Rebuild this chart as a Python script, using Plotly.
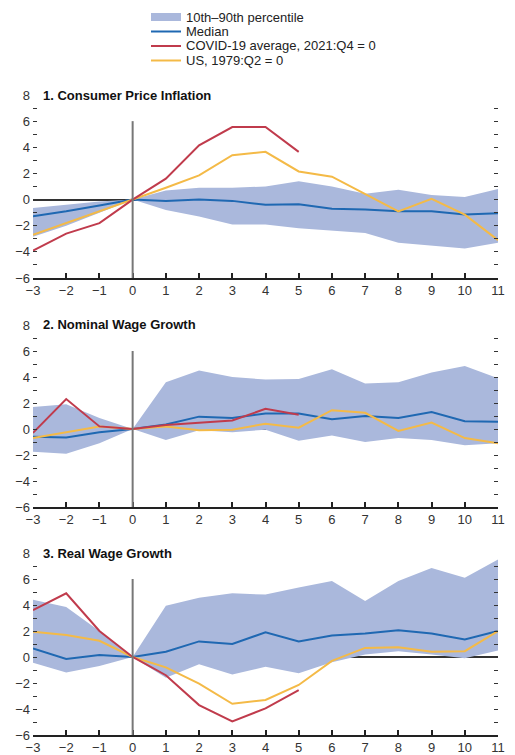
import plotly.graph_objects as go

quarters = list(range(-3, 12))
covid_q = list(range(-3, 6))
x_ticktext = ["\u22123", "\u22122", "\u22121", "0", "1", "2", "3", "4", "5", "6", "7", "8", "9", "10", "11"]
y_tickvals = list(range(-6, 9))
y_ticktext = ["\u22126", "", "\u22124", "", "\u22122", "", "0", "", "2", "", "4", "", "6", "", "8"]

titles = ["1. Consumer Price Inflation", "2. Nominal Wage Growth", "3. Real Wage Growth"]

# Panel 1: Consumer price inflation
cpi_p90 = [-0.65, -0.4, -0.15, 0, 0.7, 0.9, 0.9, 1.0, 1.4, 1.0, 0.45, 0.75, 0.35, 0.2, 0.8]
cpi_p10 = [-2.85, -2.0, -1.0, 0, -0.8, -1.3, -1.9, -1.9, -2.2, -2.35, -2.55, -3.3, -3.55, -3.75, -3.3]
cpi_median = [-1.27, -0.9, -0.45, 0, -0.1, 0.0, -0.1, -0.4, -0.35, -0.7, -0.75, -0.9, -0.9, -1.15, -1.05]
cpi_covid = [-3.9, -2.6, -1.8, 0, 1.6, 4.15, 5.55, 5.55, 3.65]
cpi_us = [-2.7, -1.8, -0.95, 0, 0.9, 1.85, 3.4, 3.65, 2.15, 1.75, 0.45, -0.9, 0.05, -1.15, -3.1]

# Panel 2: Nominal wage growth
nom_p90 = [1.7, 1.9, 0.85, 0, 3.6, 4.5, 4.0, 3.8, 3.85, 4.6, 3.5, 3.6, 4.35, 4.85, 3.9]
nom_p10 = [-1.75, -1.9, -1.1, 0, -0.85, -0.1, -0.25, -0.05, -0.9, -0.5, -1.0, -0.7, -0.85, -1.25, -1.1]
nom_median = [-0.6, -0.65, -0.25, 0, 0.35, 0.95, 0.85, 1.2, 1.2, 0.75, 1.0, 0.85, 1.3, 0.6, 0.55]
nom_covid = [-0.3, 2.3, 0.2, 0, 0.3, 0.45, 0.65, 1.55, 1.1]
nom_us = [-0.7, -0.25, 0.2, 0, 0.2, -0.1, -0.05, 0.4, 0.1, 1.45, 1.25, -0.15, 0.5, -0.7, -1.1]

# Panel 3: Real wage growth
real_p90 = [4.4, 3.85, 2.0, 0, 3.95, 4.55, 4.9, 4.8, 5.35, 5.85, 4.3, 5.85, 6.85, 6.1, 7.5]
real_p10 = [-0.45, -1.2, -0.7, 0, -1.6, -0.55, -1.35, -0.75, -1.25, -0.4, 0.2, 0.45, 0.2, -0.1, 0.5]
real_median = [0.65, -0.15, 0.15, 0, 0.4, 1.2, 1.0, 1.9, 1.2, 1.65, 1.8, 2.05, 1.8, 1.35, 2.0]
real_covid = [3.6, 4.9, 2.0, 0, -1.4, -3.7, -4.95, -3.95, -2.55]
real_us = [1.95, 1.7, 1.25, 0, -0.8, -2.05, -3.6, -3.3, -2.15, -0.3, 0.7, 0.75, 0.4, 0.45, 2.0]

panels = [
    (cpi_p90, cpi_p10, cpi_median, cpi_covid, cpi_us),
    (nom_p90, nom_p10, nom_median, nom_covid, nom_us),
    (real_p90, real_p10, real_median, real_covid, real_us),
]

legend_labels = ["10th\u201390th percentile", "Median", "COVID-19 average, 2021:Q4 = 0", "US, 1979:Q2 = 0"]

BAND = "#AAB8DC"
BLUE = "#1F68B2"
RED = "#C03B4C"
YELLOW = "#F4BA47"
FONT = "Liberation Sans"

# page body has an 8px margin; figure sits at (8, 8)
OFF = 8
W, H = 515 - OFF, 755 - OFF
L, R = 33 - OFF, 17
PW = W - L - R

# panel pixel extents in page coords (top at y=8, bottom at y=-6)
panel_px = [(95, 278), (325, 507), (553, 735)]

fig = go.Figure()

for i, (p90, p10, med, cov, us) in enumerate(panels):
    xa = "x" if i == 0 else f"x{i+1}"
    ya = "y" if i == 0 else f"y{i+1}"
    fig.add_trace(go.Scatter(x=quarters, y=p10, mode="lines", line=dict(width=0, color=BAND),
                             showlegend=False, hoverinfo="skip", xaxis=xa, yaxis=ya))
    fig.add_trace(go.Scatter(x=quarters, y=p90, mode="lines", line=dict(width=0, color=BAND),
                             fill="tonexty", fillcolor=BAND, showlegend=False, xaxis=xa, yaxis=ya))
    fig.add_trace(go.Scatter(x=quarters, y=med, mode="lines", line=dict(width=2, color=BLUE),
                             showlegend=False, xaxis=xa, yaxis=ya))
    fig.add_trace(go.Scatter(x=quarters, y=us, mode="lines", line=dict(width=2, color=YELLOW),
                             showlegend=False, xaxis=xa, yaxis=ya))
    fig.add_trace(go.Scatter(x=covid_q, y=cov, mode="lines", line=dict(width=2, color=RED),
                             showlegend=False, xaxis=xa, yaxis=ya))

    top, bot = panel_px[i]
    top -= OFF
    bot -= OFF
    dom = [1 - bot / H, 1 - top / H]
    axis_suffix = "" if i == 0 else str(i + 1)
    fig.update_layout(**{
        f"xaxis{axis_suffix}": dict(
            domain=[0, 1], range=[-3, 11], anchor=ya,
            tickvals=quarters, ticktext=x_ticktext,
            ticks="inside", ticklen=5, tickwidth=1.5, tickcolor="#222",
            showline=True, linecolor="#222", linewidth=1.5,
            showgrid=False, zeroline=False, automargin=False,
            tickfont=dict(family=FONT, size=13, color="#333"),
            fixedrange=True,
        ),
        f"yaxis{axis_suffix}": dict(
            domain=dom, range=[-6, 8], anchor=xa,
            tickvals=y_tickvals, ticktext=y_ticktext,
            ticks="inside", ticklen=4, tickwidth=1.2, tickcolor="#333",
            mirror="ticks", showline=False,
            showgrid=False, zeroline=True, zerolinecolor="#333", zerolinewidth=1.5,
            automargin=False, ticklabelstandoff=2,
            tickfont=dict(family=FONT, size=13, color="#333"),
            fixedrange=True,
        ),
    })
    # vertical reference line at t = 0
    fig.add_shape(type="line", xref=xa, yref=ya, x0=0, x1=0, y0=-6, y1=6,
                  line=dict(color="#777", width=2), layer="above")
    # panel title
    fig.add_annotation(text=f"<b>{titles[i]}</b>", xref=f"{xa} domain", yref=ya,
                       x=0, y=8, xanchor="left", yanchor="middle", xshift=8, showarrow=False,
                       font=dict(family=FONT, size=13, color="#111"))

# manual legend at top (page pixel coords converted to paper coords)
def px_x(p):
    return (p - OFF - L) / PW

def px_y(p):
    return 1 - (p - OFF) / H

rows = [17, 31.5, 46, 60.5]
sw0, sw1, tx = 151, 181, 184
fig.add_shape(type="rect", xref="paper", yref="paper", x0=px_x(sw0), x1=px_x(sw1),
              y0=px_y(rows[0] + 4), y1=px_y(rows[0] - 4), fillcolor=BAND, line=dict(width=0))
for r, c in zip(rows[1:], [BLUE, RED, YELLOW]):
    fig.add_shape(type="line", xref="paper", yref="paper", x0=px_x(sw0), x1=px_x(sw1),
                  y0=px_y(r), y1=px_y(r), line=dict(color=c, width=2))
for r, lab in zip(rows, legend_labels):
    fig.add_annotation(text=lab, xref="paper", yref="paper", x=px_x(tx), y=px_y(r),
                       xanchor="left", yanchor="middle", showarrow=False,
                       font=dict(family=FONT, size=13, color="#222"))

fig.update_layout(
    width=W, height=H,
    margin=dict(l=L, r=R, t=0, b=0),
    paper_bgcolor="white", plot_bgcolor="white",
    showlegend=False,
    font=dict(family=FONT, size=13, color="#333"),
)

fig.write_html("out.html")
